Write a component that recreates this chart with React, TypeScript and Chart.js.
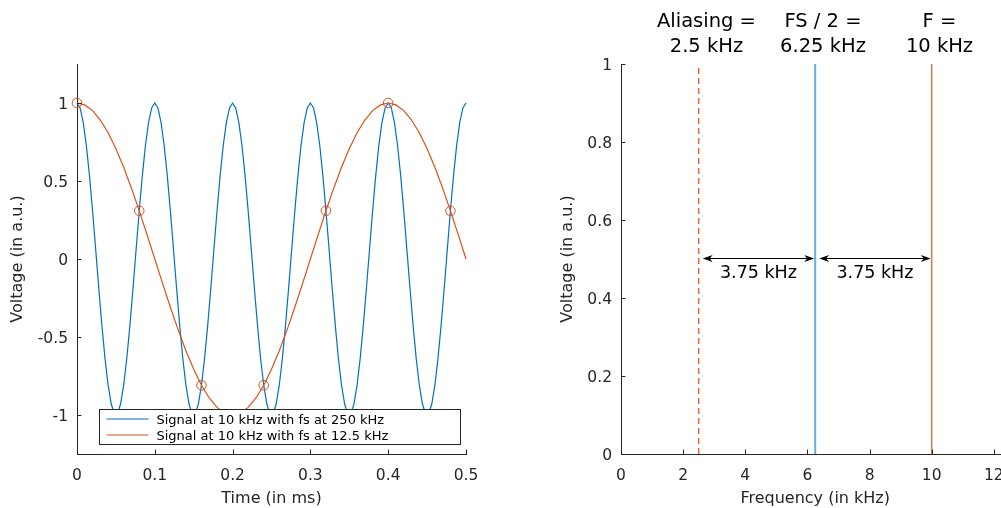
import React, { useEffect, useRef } from "react";
import { Chart, registerables } from "chart.js";

Chart.register(...registerables);

const FONT = "'DejaVu Sans', sans-serif";
const INK = "#262626";

// ---------- axis ticks ----------
const TIME_TICKS = [0, 0.1, 0.2, 0.3, 0.4, 0.5];
const VOLT_TICKS = [-1, -0.5, 0, 0.5, 1];
const FREQ_TICKS = [0, 2, 4, 6, 8, 10, 12];
const AMP_TICKS = [0, 0.2, 0.4, 0.6, 0.8, 1];

// ---------- left panel data ----------
// 10 kHz signal sampled at 250 kHz (one sample every 0.004 ms)
const BLUE_STEP_MS = 0.004;
const BLUE_VALUES = [
  1, 0.9686, 0.8763, 0.729, 0.5358, 0.309, 0.0628, -0.1874, -0.4258, -0.6374, -0.809, -0.9298, -0.9921,
  -0.9921, -0.9298, -0.809, -0.6374, -0.4258, -0.1874, 0.0628, 0.309, 0.5358, 0.729, 0.8763, 0.9686,
  1, 0.9686, 0.8763, 0.729, 0.5358, 0.309, 0.0628, -0.1874, -0.4258, -0.6374, -0.809, -0.9298, -0.9921,
  -0.9921, -0.9298, -0.809, -0.6374, -0.4258, -0.1874, 0.0628, 0.309, 0.5358, 0.729, 0.8763, 0.9686,
  1, 0.9686, 0.8763, 0.729, 0.5358, 0.309, 0.0628, -0.1874, -0.4258, -0.6374, -0.809, -0.9298, -0.9921,
  -0.9921, -0.9298, -0.809, -0.6374, -0.4258, -0.1874, 0.0628, 0.309, 0.5358, 0.729, 0.8763, 0.9686,
  1, 0.9686, 0.8763, 0.729, 0.5358, 0.309, 0.0628, -0.1874, -0.4258, -0.6374, -0.809, -0.9298, -0.9921,
  -0.9921, -0.9298, -0.809, -0.6374, -0.4258, -0.1874, 0.0628, 0.309, 0.5358, 0.729, 0.8763, 0.9686,
  1, 0.9686, 0.8763, 0.729, 0.5358, 0.309, 0.0628, -0.1874, -0.4258, -0.6374, -0.809, -0.9298, -0.9921,
  -0.9921, -0.9298, -0.809, -0.6374, -0.4258, -0.1874, 0.0628, 0.309, 0.5358, 0.729, 0.8763, 0.9686,
  1,
];
// apparent (aliased) 2.5 kHz signal, one point every 0.01 ms
const ORANGE_STEP_MS = 0.01;
const ORANGE_VALUES = [
  1, 0.9877, 0.9511, 0.891, 0.809, 0.7071, 0.5878, 0.454, 0.309, 0.1564,
  0, -0.1564, -0.309, -0.454, -0.5878, -0.7071, -0.809, -0.891, -0.9511, -0.9877,
  -1, -0.9877, -0.9511, -0.891, -0.809, -0.7071, -0.5878, -0.454, -0.309, -0.1564,
  0, 0.1564, 0.309, 0.454, 0.5878, 0.7071, 0.809, 0.891, 0.9511, 0.9877,
  1, 0.9877, 0.9511, 0.891, 0.809, 0.7071, 0.5878, 0.454, 0.309, 0.1564,
  0,
];
// samples taken at 12.5 kHz
const SAMPLE_TIMES = [0, 0.08, 0.16, 0.24, 0.32, 0.4, 0.48];
const SAMPLE_VALUES = [1, 0.309, -0.809, -0.809, 0.309, 1, 0.309];
const LEGEND_LABELS = [
  "Signal at 10 kHz with fs at 250 kHz",
  "Signal at 10 kHz with fs at 12.5 kHz",
];

// ---------- right panel data ----------
const MARKER_FREQS = [2.5, 6.25, 10];
const MARKER_AMPS = [1, 1, 1];
const MARKER_TEXT = [
  ["Aliasing =", "2.5 kHz"],
  ["FS / 2 =", "6.25 kHz"],
  ["F =", "10 kHz"],
];
const MARKER_TEXT_SHIFT = 0.25;
const ARROW_FROM = [2.5, 6.25];
const ARROW_TO = [6.25, 10];
const ARROW_LEVEL = 0.5;
const ARROW_TEXT = ["3.75 kHz", "3.75 kHz"];

// styles (kept apart from data)
const BLUE = "#0072BD";
const ORANGE = "#D95319";
const MARKER_COLORS = ["rgba(217,83,25,0.85)", "#6AAEDD", "rgba(217,83,25,0.9)"];
const MARKER_WIDTHS = [1.5, 2, 1.3];
const MARKER_DASH = [[6, 4], [], []];

function makeAxis(
  min: number,
  max: number,
  ticks: number[],
  title: string,
  horizontal: boolean,
  size: number,
  titlePad: any,
  tickPad: number
) {
  return {
    type: "linear" as const,
    min,
    max,
    afterBuildTicks: (s: any) => {
      s.ticks = ticks.map((v) => ({ value: v }));
    },
    afterFit: (s: any) => {
      if (horizontal) s.height = size;
      else s.width = size;
    },
    grid: { display: false, drawTicks: false },
    border: { display: true, color: INK, width: 1 },
    ticks: {
      color: INK,
      font: { family: FONT, size: 15.5 },
      padding: tickPad,
      labelOffset: horizontal ? 0 : 2,
      maxRotation: 0,
      minRotation: 0,
      autoSkip: false,
      callback: (v: any) => String(v),
    },
    title: {
      display: true,
      text: title,
      color: INK,
      font: { family: FONT, size: 16 },
      padding: titlePad,
    },
  };
}

const innerTicks = {
  id: "innerTicks",
  afterDraw(chart: any) {
    const { ctx, chartArea: a } = chart;
    const xs = chart.scales.x;
    const ys = chart.scales.y;
    ctx.save();
    ctx.strokeStyle = INK;
    ctx.lineWidth = 1;
    ctx.beginPath();
    xs.ticks.forEach((t: any) => {
      const px = Math.round(xs.getPixelForValue(t.value)) + 0.5;
      ctx.moveTo(px, a.bottom);
      ctx.lineTo(px, a.bottom - 4.5);
    });
    ys.ticks.forEach((t: any) => {
      const py = Math.round(ys.getPixelForValue(t.value)) + 0.5;
      ctx.moveTo(a.left, py);
      ctx.lineTo(a.left + 4.5, py);
    });
    ctx.stroke();
    ctx.restore();
  },
};

const boxLegend = {
  id: "boxLegend",
  afterDatasetsDraw(chart: any) {
    const { ctx, chartArea: a } = chart;
    const x0 = Math.round(a.left + 22) + 0.5;
    const x1 = Math.round(a.right - 6) + 0.5;
    const y1 = Math.round(a.bottom - 10) + 0.5;
    const y0 = y1 - 35;
    ctx.save();
    ctx.fillStyle = "#ffffff";
    ctx.fillRect(x0, y0, x1 - x0, y1 - y0);
    ctx.strokeStyle = INK;
    ctx.lineWidth = 1;
    ctx.strokeRect(x0, y0, x1 - x0, y1 - y0);
    const colors = [BLUE, ORANGE];
    ctx.font = `13px ${FONT}`;
    ctx.textAlign = "left";
    ctx.textBaseline = "alphabetic";
    LEGEND_LABELS.forEach((label, i) => {
      const ly = y0 + 9.5 + i * 16;
      ctx.strokeStyle = colors[i];
      ctx.lineWidth = 1.2;
      ctx.beginPath();
      ctx.moveTo(x0 + 7, ly);
      ctx.lineTo(x0 + 49, ly);
      ctx.stroke();
      ctx.fillStyle = "#000";
      ctx.fillText(label, x0 + 57, ly + 5);
    });
    ctx.restore();
  },
};

function arrowHead(ctx: any, tipX: number, tipY: number, dir: number) {
  ctx.beginPath();
  ctx.moveTo(tipX, tipY);
  ctx.lineTo(tipX - dir * 10, tipY - 3.5);
  ctx.lineTo(tipX - dir * 7, tipY);
  ctx.lineTo(tipX - dir * 10, tipY + 3.5);
  ctx.closePath();
  ctx.fill();
}

const annotations = {
  id: "annotations",
  afterDraw(chart: any) {
    const { ctx, chartArea: a } = chart;
    const xs = chart.scales.x;
    const ys = chart.scales.y;
    ctx.save();
    ctx.fillStyle = "#000";
    ctx.strokeStyle = "#000";
    ctx.textAlign = "center";
    ctx.textBaseline = "alphabetic";
    ctx.font = `19.5px ${FONT}`;
    MARKER_TEXT.forEach((lines, i) => {
      const px = xs.getPixelForValue(MARKER_FREQS[i] + MARKER_TEXT_SHIFT);
      ctx.fillText(lines[0], px, a.top - 37.3);
      ctx.fillText(lines[1], px, a.top - 12.3);
    });
    const py = Math.round(ys.getPixelForValue(ARROW_LEVEL)) - 0.5;
    ctx.font = `17.5px ${FONT}`;
    ARROW_FROM.forEach((from, i) => {
      const xa = xs.getPixelForValue(from) + 4;
      const xb = xs.getPixelForValue(ARROW_TO[i]) - 1;
      ctx.lineWidth = 1;
      ctx.beginPath();
      ctx.moveTo(xa + 6, py);
      ctx.lineTo(xb - 6, py);
      ctx.stroke();
      arrowHead(ctx, xa, py, -1);
      arrowHead(ctx, xb, py, 1);
      ctx.fillText(ARROW_TEXT[i], (xa + xb) / 2, py + 19);
    });
    ctx.restore();
  },
};

export default function App() {
  const leftRef = useRef<HTMLCanvasElement>(null);
  const rightRef = useRef<HTMLCanvasElement>(null);

  useEffect(() => {
    const blueData = BLUE_VALUES.map((v, i) => ({ x: i * BLUE_STEP_MS, y: v }));
    const orangeData = ORANGE_VALUES.map((v, i) => ({ x: i * ORANGE_STEP_MS, y: v }));
    const sampleData = SAMPLE_TIMES.map((t, i) => ({ x: t, y: SAMPLE_VALUES[i] }));

    const left = new Chart(leftRef.current as HTMLCanvasElement, {
      type: "scatter",
      data: {
        datasets: [
          {
            label: LEGEND_LABELS[0],
            data: blueData,
            showLine: true,
            borderColor: BLUE,
            borderWidth: 1.2,
            pointRadius: 0,
            clip: false as any,
            order: 3,
          },
          {
            label: LEGEND_LABELS[1],
            data: orangeData,
            showLine: true,
            borderColor: ORANGE,
            borderWidth: 1.2,
            pointRadius: 0,
            clip: false as any,
            order: 2,
          },
          {
            label: "samples",
            data: sampleData,
            showLine: false,
            borderColor: ORANGE,
            backgroundColor: "rgba(0,0,0,0)",
            borderWidth: 1,
            pointRadius: 4.8,
            pointStyle: "circle",
            clip: false as any,
            order: 1,
          },
        ],
      },
      options: {
        animation: false,
        responsive: false,
        events: [],
        layout: { padding: { top: 64, left: 0, right: 34, bottom: 0 } },
        plugins: { legend: { display: false }, tooltip: { enabled: false } },
        scales: {
          x: makeAxis(0, 0.5, TIME_TICKS, "Time (in ms)", true, 54, { bottom: 0 }, 13) as any,
          y: makeAxis(-1.25, 1.25, VOLT_TICKS, "Voltage (in a.u.)", false, 77, { top: 8.4 }, 9) as any,
        },
      },
      plugins: [innerTicks, boxLegend],
    });

    const right = new Chart(rightRef.current as HTMLCanvasElement, {
      type: "scatter",
      data: {
        datasets: MARKER_FREQS.map((f, i) => ({
          label: MARKER_TEXT[i].join(" "),
          data: [
            { x: f, y: 0 },
            { x: f, y: MARKER_AMPS[i] },
          ],
          showLine: true,
          borderColor: MARKER_COLORS[i],
          borderWidth: MARKER_WIDTHS[i],
          borderDash: MARKER_DASH[i],
          pointRadius: 0,
        })),
      },
      options: {
        animation: false,
        responsive: false,
        events: [],
        layout: { padding: { top: 64, left: 0, right: 30.6, bottom: 0 } },
        plugins: { legend: { display: false }, tooltip: { enabled: false } },
        scales: {
          x: makeAxis(0, 12.5, FREQ_TICKS, "Frequency (in kHz)", true, 54, { bottom: 0 }, 13) as any,
          y: makeAxis(0, 1, AMP_TICKS, "Voltage (in a.u.)", false, 121, { top: 57.9 }, 9) as any,
        },
      },
      plugins: [innerTicks, annotations],
    });

    return () => {
      left.destroy();
      right.destroy();
    };
  }, []);

  return (
    <div
      style={{
        position: "fixed",
        left: 0,
        top: 0,
        width: 1001,
        height: 508,
        overflow: "hidden",
        background: "#ffffff",
      }}
    >
      <canvas
        ref={leftRef}
        width={500}
        height={508}
        style={{ position: "absolute", left: 0, top: 0, width: 500, height: 508 }}
      />
      <canvas
        ref={rightRef}
        width={540}
        height={508}
        style={{ position: "absolute", left: 500, top: 0, width: 540, height: 508 }}
      />
    </div>
  );
}
